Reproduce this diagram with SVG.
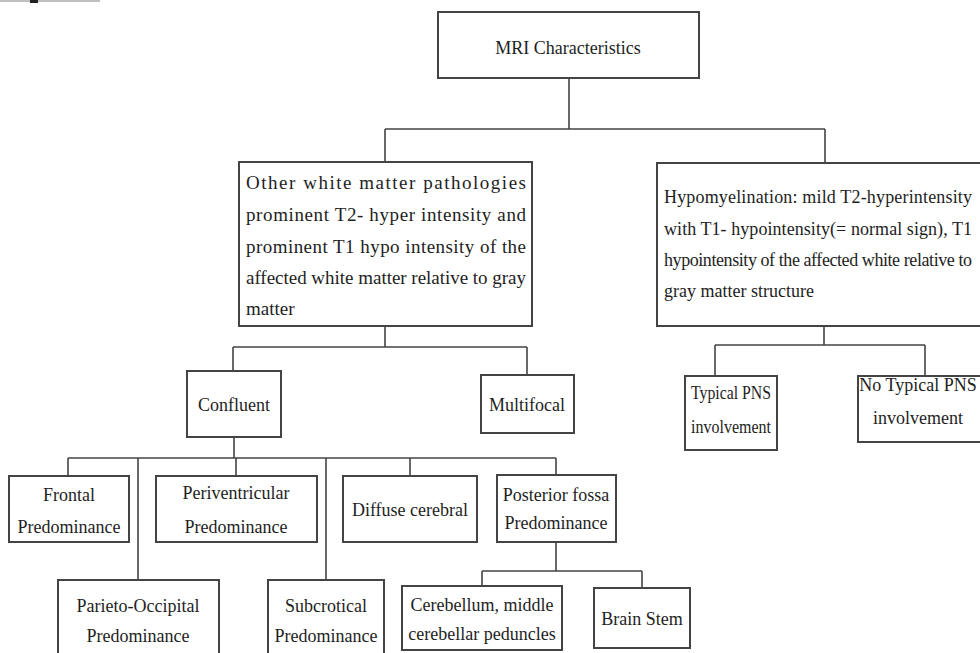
<svg xmlns="http://www.w3.org/2000/svg" width="980" height="653" viewBox="0 0 980 653">
<style>
.box{fill:#fff;stroke:#444;stroke-width:2}
.con{fill:none;stroke:#444;stroke-width:1.6}
text{font-family:"Liberation Serif","Times New Roman",serif;fill:#1e1e1e;font-size:18px}
.c{text-anchor:middle}
.j{font-size:19px}
</style>
<rect width="980" height="653" fill="#fff"/>
<line x1="0" y1="1" x2="100" y2="1" stroke="#aaa" stroke-width="1.5"/>
<rect x="30" y="0" width="8" height="3" fill="#222"/>
<g id="connectors" class="con">
<path d="M569 78V129M385 129H825M385 129V162M825 129V162"/>
<path d="M385 326V347M233 347H527M233 347V371M527 347V375"/>
<path d="M234 437V458M68 458H556M68 458V476M138 458V580M236 458V476M326 458V580M410 458V476M556 458V476"/>
<path d="M556 542V571M482 571H642M482 571V586M642 571V588"/>
<path d="M824 326V345M715 345H925M715 345V376M925 345V376"/>
</g>
<g id="n-mri"><rect class="box" x="438" y="12" width="261" height="66"/><text class="c" x="568" y="54">MRI Characteristics</text></g>
<g id="n-other"><rect class="box" x="239" y="162" width="293" height="164"/>
<text class="j" x="246" y="189" textLength="280" lengthAdjust="spacing">Other white matter pathologies</text>
<text class="j" x="246" y="221" textLength="280" lengthAdjust="spacing">prominent T2- hyper intensity and</text>
<text class="j" x="246" y="253" textLength="280" lengthAdjust="spacing">prominent T1 hypo intensity of the</text>
<text class="j" x="246" y="284" textLength="280" lengthAdjust="spacing">affected white matter relative to gray</text>
<text class="j" x="246" y="315">matter</text></g>
<g id="n-hypo"><rect class="box" x="657" y="163" width="340" height="163"/>
<text x="664" y="203" textLength="308" lengthAdjust="spacing">Hypomyelination: mild T2-hyperintensity</text>
<text x="664" y="235" textLength="308" lengthAdjust="spacing">with T1- hypointensity(= normal sign), T1</text>
<text x="664" y="266" font-size="17" textLength="308" lengthAdjust="spacing">hypointensity of the affected white relative to</text>
<text x="664" y="297">gray matter structure</text></g>
<g id="n-confluent"><rect class="box" x="187" y="371" width="94" height="66"/><text class="c" x="234" y="411">Confluent</text></g>
<g id="n-multifocal"><rect class="box" x="481" y="375" width="93" height="58"/><text class="c" x="527" y="411">Multifocal</text></g>
<g id="n-typical"><rect class="box" x="685" y="376" width="92" height="74"/><text class="c" x="731" y="399" textLength="80" lengthAdjust="spacingAndGlyphs">Typical PNS</text><text class="c" x="731" y="433" textLength="80" lengthAdjust="spacingAndGlyphs">involvement</text></g>
<g id="n-notypical"><rect class="box" x="858" y="376" width="140" height="66"/><text class="c" x="918" y="391">No Typical PNS</text><text class="c" x="918" y="424">involvement</text></g>
<g id="n-frontal"><rect class="box" x="9" y="476" width="120" height="66"/><text class="c" x="69" y="501">Frontal</text><text class="c" x="69" y="533">Predominance</text></g>
<g id="n-periventricular"><rect class="box" x="156" y="476" width="161" height="66"/><text class="c" x="236" y="499">Periventricular</text><text class="c" x="236" y="533">Predominance</text></g>
<g id="n-diffuse"><rect class="box" x="343" y="476" width="134" height="66"/><text class="c" x="410" y="516">Diffuse cerebral</text></g>
<g id="n-posterior"><rect class="box" x="497" y="475" width="119" height="67"/><text class="c" x="556" y="501">Posterior fossa</text><text class="c" x="556" y="529">Predominance</text></g>
<g id="n-parieto"><rect class="box" x="58" y="580" width="161" height="80"/><text class="c" x="138" y="612">Parieto-Occipital</text><text class="c" x="138" y="642">Predominance</text></g>
<g id="n-subcrotical"><rect class="box" x="268" y="580" width="116" height="80"/><text class="c" x="326" y="612">Subcrotical</text><text class="c" x="326" y="642">Predominance</text></g>
<g id="n-cerebellum"><rect class="box" x="402" y="586" width="160" height="64"/><text class="c" x="482" y="611">Cerebellum, middle</text><text class="c" x="482" y="640">cerebellar peduncles</text></g>
<g id="n-brainstem"><rect class="box" x="594" y="588" width="96" height="60"/><text class="c" x="642" y="625">Brain Stem</text></g>
</svg>
